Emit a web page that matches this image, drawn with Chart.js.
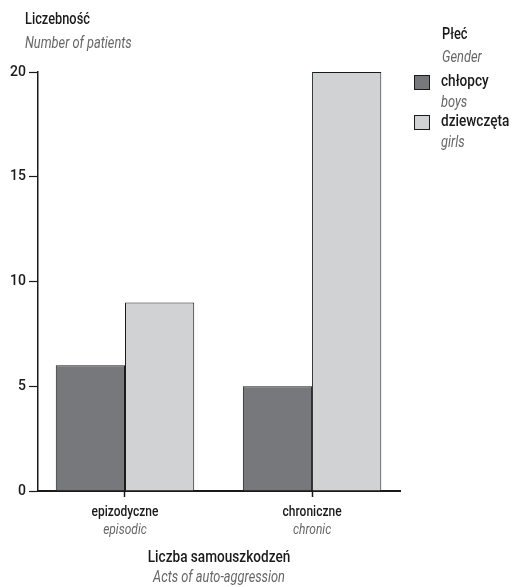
<!DOCTYPE html>
<html>
<head>
<meta charset="utf-8">
<script src="https://cdn.jsdelivr.net/npm/chart.js@4"></script>
<style>
  html, body { margin: 0; padding: 0; background: #fff; }
  #wrap { width: 515px; height: 587px; }
</style>
</head>
<body>
<div id="wrap"><canvas id="sampleChart"></canvas></div>
<script>
const categoriesPl = ['epizodyczne', 'chroniczne'];
const categoriesEn = ['episodic', 'chronic'];
const boys = [6, 5];
const girls = [9, 20];
const yTicks = [0, 5, 10, 15, 20];

const FONT = 'Roboto, "DejaVu Sans Condensed", sans-serif';
const SX = 0.8; // squeeze text a bit, the original uses a condensed face
const DARK = '#77787b';
const LIGHT = '#d1d2d4';
const INK = '#1a1a1a';
const GREY_TXT = '#666666';

function text(ctx, str, x, y, font, color, align) {
    ctx.save();
    ctx.font = font;
    ctx.fillStyle = color;
    ctx.textBaseline = 'middle';
    ctx.textAlign = 'left';
    const w = ctx.measureText(str).width * SX;
    let x0 = x;
    if (align === 'center') x0 = x - w / 2;
    ctx.translate(x0, y);
    ctx.scale(SX, 1);
    ctx.fillText(str, 0, 0);
    ctx.restore();
}

// titles, legend and the two-line category labels
const labelsPlugin = {
    id: 'labelsPlugin',
    afterDraw(chart) {
        const ctx = chart.ctx;
        const x = chart.scales.x;

        text(ctx, 'Liczebność', 25, 20, '500 16px ' + FONT, INK);
        text(ctx, 'Number of patients', 25, 44, 'italic 16px ' + FONT, GREY_TXT);

        categoriesPl.forEach((c, i) => {
            const px = x.getPixelForValue(i);
            text(ctx, c, px, 512, '500 15px ' + FONT, INK, 'center');
            text(ctx, categoriesEn[i], px, 530, 'italic 15px ' + FONT, GREY_TXT, 'center');
        });

        const cx = (x.left + x.right) / 2;
        text(ctx, 'Liczba samouszkodzeń', cx, 558, '500 17px ' + FONT, INK, 'center');
        text(ctx, 'Acts of auto-aggression', cx, 578, 'italic 16px ' + FONT, GREY_TXT, 'center');

        // legend
        text(ctx, 'Płeć', 442, 35, '500 16px ' + FONT, INK);
        text(ctx, 'Gender', 442, 58, 'italic 16px ' + FONT, GREY_TXT);
        const items = [
            { pl: 'chłopcy', en: 'boys', ds: 0, y: 82 },
            { pl: 'dziewczęta', en: 'girls', ds: 1, y: 122 }
        ];
        items.forEach(it => {
            ctx.save();
            ctx.fillStyle = chart.data.datasets[it.ds].backgroundColor;
            ctx.fillRect(414, it.y - 7, 16, 15);
            ctx.strokeStyle = INK;
            ctx.lineWidth = 1;
            ctx.strokeRect(414.5, it.y - 6.5, 15, 14);
            ctx.restore();
            text(ctx, it.pl, 441, it.y, '500 17px ' + FONT, INK);
            text(ctx, it.en, 441, it.y + 21, 'italic 16px ' + FONT, GREY_TXT);
        });
    }
};

const data = {
    labels: categoriesPl,
    datasets: [{
        label: 'chłopcy',
        data: boys,
        backgroundColor: DARK,
        borderColor: INK,
        borderWidth: 1,
        categoryPercentage: 0.74,
        barPercentage: 1.0
    }, {
        label: 'dziewczęta',
        data: girls,
        backgroundColor: LIGHT,
        borderColor: INK,
        borderWidth: 1,
        categoryPercentage: 0.74,
        barPercentage: 1.0
    }]
};

const config = {
    type: 'bar',
    data: data,
    options: {
        responsive: true,
        maintainAspectRatio: false,
        animation: false,
        layout: {
            padding: { top: 72, right: 115, left: 0, bottom: 0 }
        },
        plugins: {
            legend: { display: false },
            tooltip: { enabled: false }
        },
        scales: {
            x: {
                afterFit(scale) { scale.height = 96; },
                afterBuildTicks(scale) {
                    // the groups sit a little wider apart than the default half-category margin
                    scale._startValue = -0.465;
                    scale._valueRange = 1.935;
                },
                border: { color: INK, width: 2 },
                grid: {
                    offset: false,
                    drawOnChartArea: false,
                    drawTicks: true,
                    tickLength: 6,
                    tickWidth: 1.5,
                    color: INK
                },
                ticks: { display: false }
            },
            y: {
                min: 0,
                max: 20,
                afterFit(scale) { scale.width = 38; },
                afterBuildTicks(scale) {
                    scale.ticks = yTicks.map(v => ({ value: v }));
                },
                border: { color: INK, width: 1.5 },
                grid: {
                    drawOnChartArea: false,
                    drawTicks: true,
                    tickLength: 9,
                    tickWidth: 1.2,
                    color: INK
                },
                ticks: {
                    color: INK,
                    padding: 3,
                    font: { family: FONT, size: 14, weight: '500' }
                }
            }
        }
    },
    plugins: [labelsPlugin]
};

const sampleChart = new Chart(
    document.getElementById('sampleChart'),
    config
);
</script>
</body>
</html>
